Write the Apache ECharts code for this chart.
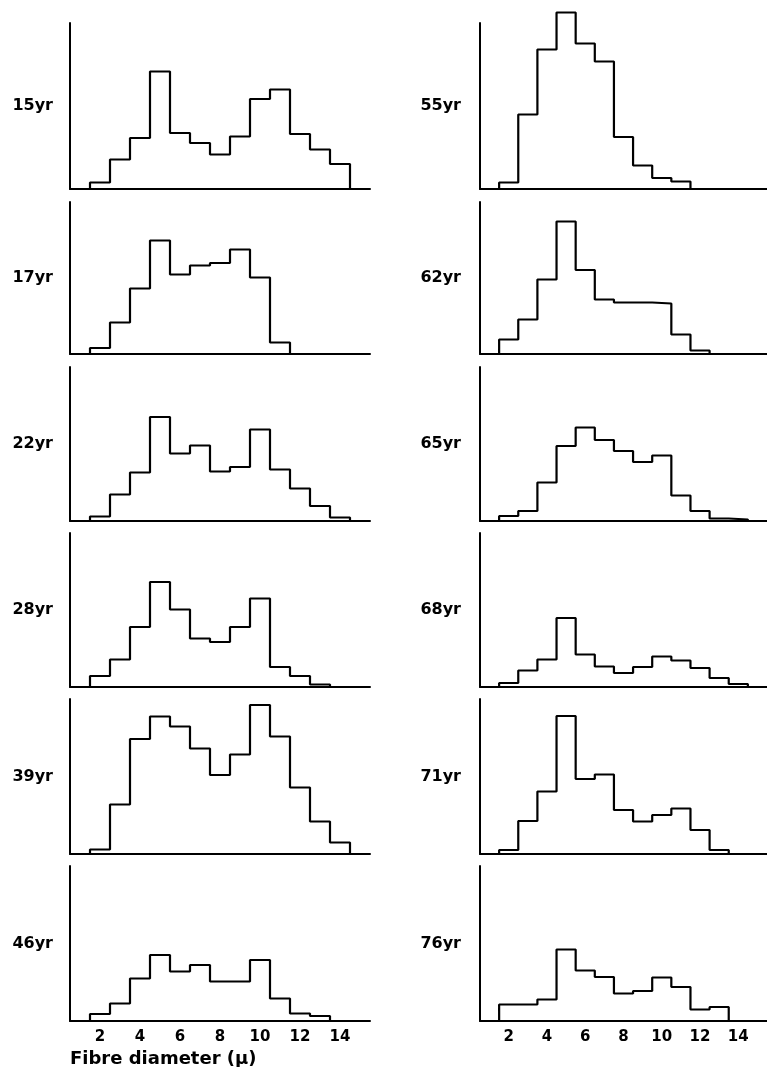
<!DOCTYPE html>
<html>
<head>
<meta charset="utf-8">
<title>Fibre diameter histograms</title>
<script src="https://cdn.jsdelivr.net/npm/echarts@6/dist/echarts.min.js"></script>
<style>
  html, body { margin: 0; padding: 0; background: #fff; }
  #chart { width: 767px; height: 1067px; }
</style>
</head>
<body>
<div id="chart"></div>
<script>
// bins are 1 µ wide, centred on whole microns, first bin at 2 µ
const firstBin = 2;
const xTicks = [2, 4, 6, 8, 10, 12, 14];

const ages = ['15yr', '17yr', '22yr', '28yr', '39yr', '46yr',
              '55yr', '62yr', '65yr', '68yr', '71yr', '76yr'];

// relative frequency per bin (no scale printed on the original)
const freq15 = [1.3, 5.9, 10.2, 23.5, 11.2, 9.2, 6.9, 10.5, 18.0, 19.9, 11.0, 7.9, 5.0];
const freq17 = [1.2, 6.3, 13.1, 22.7, 15.9, 17.7, 18.2, 20.9, 15.3, 2.3];
const freq22 = [0.9, 5.3, 9.7, 20.8, 13.5, 15.1, 9.9, 10.8, 18.3, 10.3, 6.5, 3.0, 0.7];
const freq28 = [2.2, 5.5, 12.0, 21.0, 15.5, 9.7, 9.0, 12.0, 17.7, 4.0, 2.2, 0.5];
const freq39 = [0.9, 9.9, 23.0, 27.5, 25.5, 21.1, 15.8, 19.9, 29.8, 23.5, 13.3, 6.5, 2.3];
const freq46 = [1.4, 3.5, 8.5, 13.2, 9.9, 11.2, 7.9, 7.9, 12.2, 4.5, 1.5, 1.0];
const freq55 = [1.3, 14.9, 27.9, 35.3, 29.1, 25.5, 10.4, 4.7, 2.2, 1.5];
const freq62 = [2.9, 6.9, 14.9, 26.5, 16.8, 10.9, 10.3, 10.3, 10.1, 3.9, 0.7];
const freq65 = [1.0, 2.0, 7.7, 15.0, 18.7, 16.2, 14.0, 11.8, 13.1, 5.1, 2.0, 0.5, 0.3];
const freq68 = [0.8, 3.3, 5.5, 13.8, 6.5, 4.1, 2.8, 4.0, 6.1, 5.3, 3.8, 1.8, 0.6];
const freq71 = [0.8, 6.6, 12.5, 27.6, 15.0, 15.9, 8.8, 6.5, 7.8, 9.1, 4.8, 0.8];
const freq76 = [3.3, 3.3, 4.3, 14.3, 10.1, 8.8, 5.5, 6.0, 8.7, 6.8, 2.3, 2.8];

const allFreq = [freq15, freq17, freq22, freq28, freq39, freq46,
                 freq55, freq62, freq65, freq68, freq71, freq76];

// layout (pixels)
const rowTop = [23, 202, 367, 533, 699, 866];
const rowBase = [189, 354, 521, 687, 854, 1021];
const colLeft = [70, 480];
const colUnit = [20, 19.6];   // px per micron
const yPx = 5;                // px per frequency unit
const font = 'DejaVu Sans';

const option = {
  backgroundColor: '#fff',
  animation: false,
  title: {
    text: 'Fibre diameter (μ)',
    left: 70,
    top: 1050,
    padding: 0,
    textStyle: { fontFamily: font, fontSize: 18, fontWeight: 'bold', color: '#000' }
  },
  grid: [],
  xAxis: [],
  yAxis: [],
  series: []
};

ages.forEach((age, i) => {
  const col = i < 6 ? 0 : 1;
  const row = i % 6;
  const top = rowTop[row];
  const h = rowBase[row] - top;
  option.grid.push({ left: colLeft[col], top: top, width: 15 * colUnit[col], height: h });
  option.xAxis.push({
    type: 'value', gridIndex: i, min: 0.5, max: 15.5,
    axisLine: { lineStyle: { color: '#000', width: 2 } },
    axisTick: { show: false },
    splitLine: { show: false },
    axisLabel: {
      show: row === 5, customValues: xTicks, margin: 9,
      fontFamily: font, fontSize: 15, fontWeight: 'bold', color: '#000'
    }
  });
  option.yAxis.push({
    type: 'value', gridIndex: i, min: 0, max: h / yPx,
    axisLine: { show: true, lineStyle: { color: '#000', width: 2 } },
    axisTick: { show: false },
    axisLabel: { show: false },
    splitLine: { show: false },
    name: age, nameLocation: 'middle', nameRotate: 0, nameGap: col === 0 ? 17 : 19,
    nameTextStyle: {
      align: 'right', verticalAlign: 'middle',
      fontFamily: font, fontSize: 16, fontWeight: 'bold', color: '#000'
    }
  });
  const vals = allFreq[i];
  const pts = [[firstBin - 0.5, 0]];
  vals.forEach((v, k) => pts.push([firstBin + k + 0.5, v]));
  pts.push([firstBin + vals.length - 0.5, 0]);
  option.series.push({
    type: 'line', xAxisIndex: i, yAxisIndex: i,
    data: pts, step: 'start', symbol: 'none', clip: false, silent: true,
    lineStyle: { color: '#000', width: 2.2 }
  });
});

const chart = echarts.init(document.getElementById('chart'));
chart.setOption(option);
</script>
</body>
</html>
